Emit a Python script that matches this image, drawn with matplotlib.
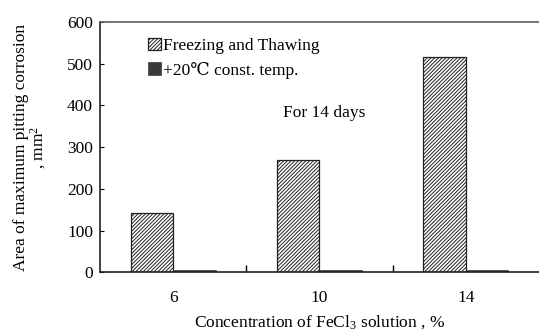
import matplotlib
matplotlib.use("Agg")
import matplotlib.pyplot as plt
import numpy as np

plt.rcParams['font.family'] = ['Liberation Serif', 'DejaVu Serif']
plt.rcParams['mathtext.fontset'] = 'custom'
plt.rcParams['mathtext.rm'] = 'Liberation Serif'
plt.rcParams['mathtext.it'] = 'Liberation Serif:italic'
plt.rcParams['hatch.color'] = '#404040'
plt.rcParams['hatch.linewidth'] = 0.7

# data
concentrations = ['6', '10', '14']
freeze_thaw = [142, 270, 515]
const_temp = [5, 5, 5]

fs = 12.5

fig = plt.figure(figsize=(5.39, 3.33), dpi=100)
ax = fig.add_axes([0.1855, 0.182, 0.8145, 0.752])

x = np.arange(len(concentrations))
w = 0.29
ax.bar(x - w/2, freeze_thaw, w, facecolor='white', edgecolor='#202020',
       hatch='/////////', linewidth=0.9, label='Freezing and Thawing')
ax.bar(x + w/2, const_temp, w, color='#3a3a3a', edgecolor='#3a3a3a',
       linewidth=0.5, label='+20℃ const. temp.')

ax.set_xlim(-0.5, 2.5)
ax.set_ylim(0, 600)
ax.set_yticks(range(0, 601, 100))
ax.set_xticks(x)
ax.set_xticklabels(concentrations)
ax.set_xticks([0.5, 1.5], minor=True)
ax.tick_params(axis='x', which='major', length=0, pad=13, labelsize=fs)
ax.tick_params(axis='x', which='minor', direction='in', length=5, width=1)
ax.tick_params(axis='y', direction='in', length=3, labelsize=fs, pad=5)

ax.spines['right'].set_visible(False)
for s in ['left', 'bottom']:
    ax.spines[s].set_linewidth(1.2)
    ax.spines[s].set_color('#202020')
ax.spines['top'].set_color('#606060')
ax.spines['top'].set_linewidth(1.2)

ax.set_xlabel('Concentration of FeCl$_3$ solution , %', fontsize=fs, labelpad=5)
ax.set_ylabel('Area of maximum pitting corrosion\n, mm$^2$', fontsize=fs,
              labelpad=14, linespacing=0.9)

ax.text(0.51, 0.638, 'For 14 days', transform=ax.transAxes, fontsize=fs,
        ha='center', va='center')

ax.legend(loc='upper left', bbox_to_anchor=(0.093, 0.965), frameon=False,
          handlelength=0.75, handleheight=0.75, handletextpad=0.1,
          labelspacing=0.45, fontsize=fs, borderaxespad=0)

fig.savefig('out.png', dpi=100)
